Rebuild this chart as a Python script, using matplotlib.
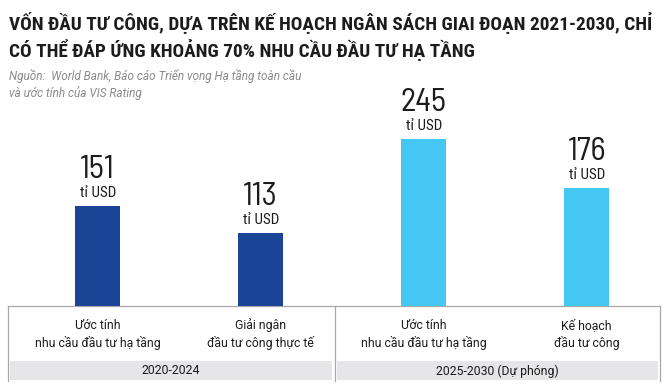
import matplotlib
matplotlib.use("Agg")
import matplotlib.pyplot as plt
from matplotlib.patches import Rectangle
from matplotlib.lines import Line2D
from matplotlib.transforms import blended_transform_factory

# --- data -----------------------------------------------------------------
categories = ["Ước tính\nnhu cầu đầu tư hạ tầng",
              "Giải ngân\nđầu tư công thực tế",
              "Ước tính\nnhu cầu đầu tư hạ tầng",
              "Kế hoạch\nđầu tư công"]
values = [151, 113, 245, 176]
periods = ["2020-2024", "2025-2030 (Dự phóng)"]
unit = "tỉ USD"

title = ("VỐN ĐẦU TƯ CÔNG, DỰA TRÊN KẾ HOẠCH NGÂN SÁCH GIAI ĐOẠN 2021-2030, CHỈ\n"
         "CÓ THỂ ĐÁP ỨNG KHOẢNG 70% NHU CẦU ĐẦU TƯ HẠ TẦNG")
source = ["Nguồn:  World Bank, Báo cáo Triển vọng Hạ tầng toàn cầu",
          "và ước tính của VIS Rating"]

DARK = "#1a4597"
LIGHT = "#45c7f4"
colors = [DARK, DARK, LIGHT, LIGHT]
INK = "#1c1c1c"
GRID = "#a8a8a8"
BAND = "#e6e6e8"
COND = ["Roboto Condensed", "DejaVu Sans"]
WIDE = ["Roboto", "DejaVu Sans"]
NUM = ["Barlow Semi Condensed", "Roboto Condensed", "DejaVu Sans"]

plt.rcParams["font.family"] = COND

W, H = 669, 389
fig = plt.figure(figsize=(W / 100, H / 100), dpi=100)


def fx(px):
    return px / W


def fy(py):
    return 1 - py / H


# --- bars -----------------------------------------------------------------
ax = fig.add_axes([fx(8), fy(306), fx(652), 246 / H])
xpos = [i + 0.55 for i in range(len(values))]
ax.bar(xpos, values, width=0.28, color=colors, zorder=2)
ax.set_xlim(0, 4)
ax.set_ylim(10.4, 356)
ax.axis("off")

for x, v in zip(xpos, values):
    ax.annotate(unit, (x, v), xytext=(0, 6.5), textcoords="offset points",
                ha="center", va="baseline", fontsize=10.8, color=INK)
    ax.annotate(str(v), (x, v), xytext=(0, 20.2), textcoords="offset points",
                ha="center", va="baseline", fontsize=23.5, color=INK,
                family=NUM)

# category labels under the bars
tr = blended_transform_factory(ax.transData, fig.transFigure)
for x, lab in zip(xpos, categories):
    for k, line in enumerate(lab.split("\n")):
        ax.text(x, fy(329 + 18 * k), line, transform=tr, ha="center",
                va="baseline", fontsize=8.8, color=INK, family=WIDE)

# --- table frame ----------------------------------------------------------
lay = fig.add_axes([0, 0, 1, 1], zorder=-1)
lay.set_xlim(0, W)
lay.set_ylim(H, 0)
lay.axis("off")
lw = 0.9
lay.add_line(Line2D([8, 660], [306, 306], color=GRID, lw=lw))
for xv in (8, 334.5, 660):
    lay.add_line(Line2D([xv, xv], [306, 381], color=GRID, lw=lw))
bands = [(9.5, 332), (337, 658)]
for (x0, x1), lab in zip(bands, periods):
    lay.add_patch(Rectangle((x0, 361), x1 - x0, 19, color=BAND, lw=0))
    lay.text((x0 + x1) / 2, 374.5, lab, ha="center", va="baseline",
             fontsize=8.8, color=INK, family=WIDE)

# --- title and source -----------------------------------------------------
for k, line in enumerate(title.split("\n")):
    fig.text(fx(9), fy(30 + 27 * k), line, fontsize=13.9, fontweight="bold",
             color=INK, va="baseline")
for k, line in enumerate(source):
    fig.text(fx(9), fy(80 + 17 * k), line, fontsize=8.5, style="italic",
             color="#8a8a8a", va="baseline", family=WIDE)

fig.savefig("out.png", dpi=100)
